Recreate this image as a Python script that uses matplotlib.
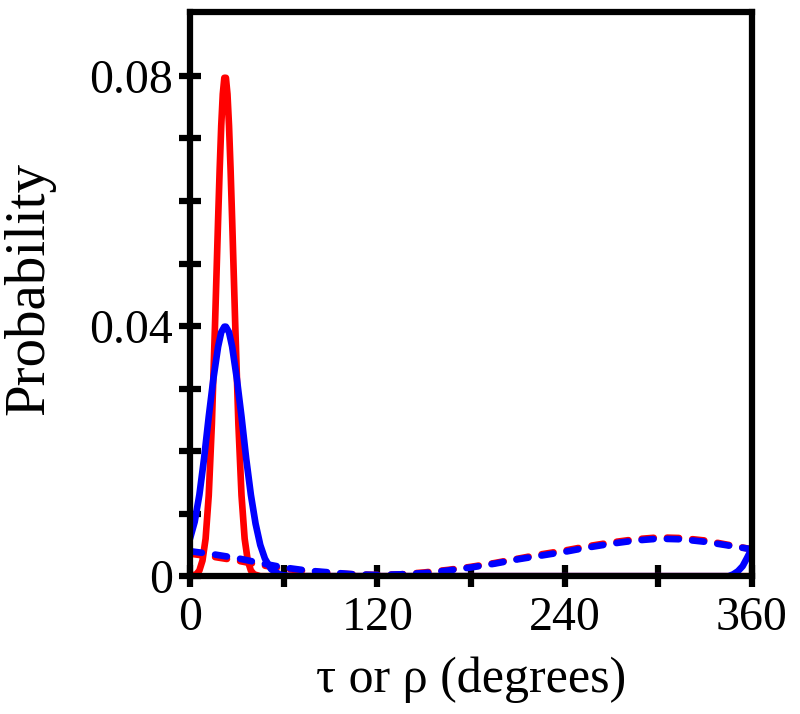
import matplotlib
matplotlib.use("Agg")
import matplotlib.pyplot as plt

plt.rcParams['font.family'] = ['Liberation Serif', 'DejaVu Serif']

# red solid: narrow peak near 22 degrees
red_x = [0, 4, 6, 8, 10, 12, 14, 16, 18, 19, 20, 21, 22, 23, 24, 25, 26, 27,
         29, 31, 33, 35, 37, 39, 41, 45, 360]
red_y = [0.0, 0.0003, 0.0009, 0.0025, 0.0060, 0.0129, 0.0243, 0.0400, 0.0570,
         0.0650, 0.0720, 0.0771, 0.0797, 0.0797, 0.0771, 0.0720, 0.0650, 0.0570,
         0.0400, 0.0243, 0.0129, 0.0060, 0.0025, 0.0009, 0.0003, 0.0, 0.0]

# blue solid: wider peak, wraps round at 360
blue_x = [0, 3, 6, 9, 12, 15, 18, 20, 22, 23, 25, 27, 30, 33, 36, 39, 42, 45,
          48, 52, 58, 65, 345, 348, 351, 354, 357, 360]
blue_y = [0.0060, 0.0087, 0.0130, 0.0188, 0.0255, 0.0316, 0.0367, 0.0390, 0.0399,
          0.0399, 0.0390, 0.0367, 0.0316, 0.0255, 0.0188, 0.0130, 0.0084, 0.0050,
          0.0028, 0.0011, 0.0002, 0.0, 0.0, 0.0003, 0.0008, 0.0016, 0.0030, 0.0045]

# dashed: broad distributions
dash_x = [0, 15, 30, 45, 60, 75, 90, 105, 120, 135, 150, 165, 180, 195, 210, 225,
          240, 255, 270, 285, 300, 315, 330, 345, 360]
red_dash_y = [0.0036, 0.0031, 0.0025, 0.0018, 0.0012, 0.0008, 0.0005, 0.0003, 0.0002,
              0.0003, 0.0006, 0.0010, 0.0015, 0.0021, 0.0028, 0.0035, 0.0041, 0.0048,
              0.0054, 0.0059, 0.0062, 0.0061, 0.0057, 0.0050, 0.0043]
blue_dash_y = [0.0040, 0.0035, 0.0029, 0.0021, 0.0014, 0.0009, 0.0006, 0.0003, 0.0002,
               0.0003, 0.0005, 0.0009, 0.0014, 0.0020, 0.0027, 0.0033, 0.0039, 0.0046,
               0.0052, 0.0057, 0.0060, 0.0059, 0.0055, 0.0049, 0.0043]

fig = plt.figure(figsize=(8, 7.14), dpi=100)
ax = fig.add_axes([0.2375, 0.193, 0.7025, 0.790])

lw = 4.8
ax.plot(red_x, red_y, color='#ff0000', lw=lw, solid_capstyle='round', solid_joinstyle='round')
ax.plot(dash_x, red_dash_y, color='#ff0000', lw=lw, dashes=(1.8, 2.0), dash_capstyle='round')
ax.plot(blue_x, blue_y, color='#0000ff', lw=lw, solid_capstyle='round', solid_joinstyle='round')
ax.plot(dash_x, blue_dash_y, color='#0000ff', lw=lw, dashes=(1.8, 2.0), dash_capstyle='round')

ax.set_xlim(0, 360)
ax.set_ylim(0, 0.0902)

ax.set_xticks([0, 60, 120, 180, 240, 300, 360])
ax.set_xticklabels(['0', '', '120', '', '240', '', '360'])
ax.set_yticks([0, 0.01, 0.02, 0.03, 0.04, 0.05, 0.06, 0.07, 0.08])
ax.set_yticklabels(['0', '', '', '', '0.04', '', '', '', '0.08'])

ax.tick_params(direction='inout', length=16, width=4.5, labelsize=34.5,
               top=False, right=False)
ax.tick_params(axis='y', pad=4)
ax.tick_params(axis='x', pad=6)
for s in ax.spines.values():
    s.set_linewidth(4.5)

ax.set_xlabel('τ or ρ (degrees)', fontsize=36, labelpad=12)
ax.set_ylabel('Probability', fontsize=41)
ax.yaxis.set_label_coords(-0.24, 0.51)

fig.savefig('out.png', dpi=100)
